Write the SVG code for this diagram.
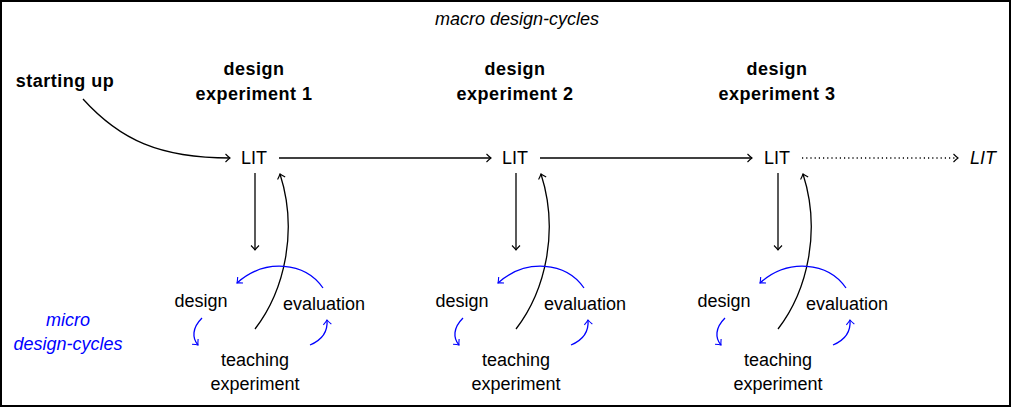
<svg xmlns="http://www.w3.org/2000/svg" width="1011" height="407" viewBox="0 0 1011 407">
<style>
text{font-family:"Liberation Sans","DejaVu Sans",sans-serif;font-size:18px;fill:#000;text-anchor:middle}
.b{font-weight:bold;letter-spacing:0.5px}
.i{font-style:italic}
.blue{fill:#0000ff}
.k{fill:none;stroke:#000;stroke-width:1.3}
.bl{fill:none;stroke:#0000ff;stroke-width:1.3}
</style>
<defs>
<marker id="ak" markerUnits="userSpaceOnUse" markerWidth="12" markerHeight="12" refX="0" refY="0" orient="auto" overflow="visible" viewBox="-6 -6 12 12">
<path d="M-4.5,-4 Q-1.5,-1 0,0 Q-1.5,1 -4.5,4" fill="none" stroke="#000" stroke-width="1.1"/>
</marker>
<marker id="ab" markerUnits="userSpaceOnUse" markerWidth="12" markerHeight="12" refX="0" refY="0" orient="auto" overflow="visible" viewBox="-6 -6 12 12">
<path d="M-4.5,-4 Q-1.5,-1 0,0 Q-1.5,1 -4.5,4" fill="none" stroke="#0000ff" stroke-width="1.1"/>
</marker>
<g id="cycle">
<path class="k" d="M255,173 L255,250" marker-end="url(#ak)"/>
<path class="k" d="M255,329 C285,290 298,230 280,174" marker-end="url(#ak)"/>
<path class="bl" d="M323,288 C305,262 265,258 237,283" marker-end="url(#ab)"/>
<path class="bl" d="M202,318 C192,328 192,338 198,345" marker-end="url(#ab)"/>
<path class="bl" d="M310,345 C322,340 328,332 327,320" marker-end="url(#ab)"/>
</g>
</defs>
<rect x="1" y="1" width="1009" height="405" fill="#fff" stroke="#000" stroke-width="2"/>
<g id="title"><text class="i" x="517" y="25">macro design-cycles</text></g>
<g id="starting"><text class="b" x="65" y="87">starting up</text></g>
<g id="micro"><text class="i blue" x="68" y="326">micro</text><text class="i blue" x="68" y="350">design-cycles</text></g>
<g id="litfinal"><text class="i" x="983" y="164">LIT</text></g>
<g id="connectors">
<path class="k" d="M83,99 C120,140 160,158 230,158" marker-end="url(#ak)"/>
<path class="k" d="M279,158 L491,158" marker-end="url(#ak)"/>
<path class="k" d="M540,158 L752,158" marker-end="url(#ak)"/>
<path class="k" d="M802,158 L958,158" stroke-dasharray="1.2,3" marker-end="url(#ak)"/>
<use href="#cycle"/>
<use href="#cycle" transform="translate(261,0)"/>
<use href="#cycle" transform="translate(523,0)"/>
</g>
<g id="exp1">
<text class="b" x="254" y="75">design</text><text class="b" x="254" y="100">experiment 1</text>
<text x="254" y="164">LIT</text>
<text x="201" y="307">design</text><text x="324" y="310">evaluation</text>
<text x="255" y="366">teaching</text><text x="255" y="390">experiment</text>
</g>
<g id="exp2" transform="translate(261,0)">
<text class="b" x="254" y="75">design</text><text class="b" x="254" y="100">experiment 2</text>
<text x="254" y="164">LIT</text>
<text x="201" y="307">design</text><text x="324" y="310">evaluation</text>
<text x="255" y="366">teaching</text><text x="255" y="390">experiment</text>
</g>
<g id="exp3" transform="translate(523,0)">
<text class="b" x="254" y="75">design</text><text class="b" x="254" y="100">experiment 3</text>
<text x="254" y="164">LIT</text>
<text x="201" y="307">design</text><text x="324" y="310">evaluation</text>
<text x="255" y="366">teaching</text><text x="255" y="390">experiment</text>
</g>
</svg>
